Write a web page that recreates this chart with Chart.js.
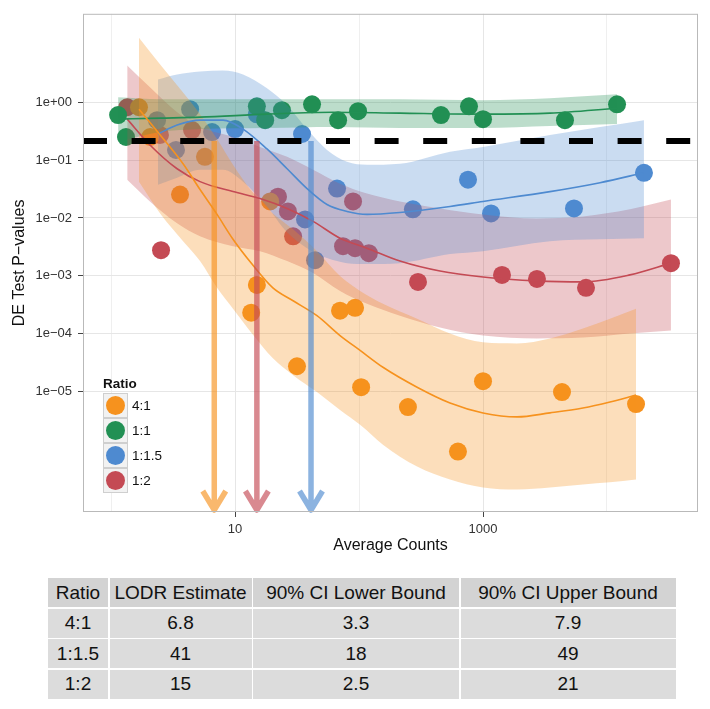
<!DOCTYPE html>
<html>
<head>
<meta charset="utf-8">
<title>LODR estimates</title>
<script src="https://cdn.jsdelivr.net/npm/chart.js@4.4.1/dist/chart.umd.min.js"></script>
<style>
  html, body { margin: 0; padding: 0; background: #fff; }
  #wrap { position: relative; width: 710px; height: 709px; overflow: hidden; }
  #chart { position: absolute; left: 0; top: 0; }
  #lodr {
    position: absolute; left: 48px; top: 578px;
    display: grid;
    grid-template-columns: 60px 142px 206px 215px;
    grid-auto-rows: 29px;
    gap: 1.5px;
    background: #fff;
    font-family: 'Liberation Sans', Arial, Helvetica, sans-serif;
    font-size: 19px; color: #111;
  }
  #lodr div { background: #dcdcdc; display: flex; align-items: center; justify-content: center; white-space: nowrap; }
  #lodr div.head { background: #d3d3d3; }
</style>
</head>
<body>
<div id="wrap">
  <canvas id="chart" width="710" height="560"></canvas>
  <div id="lodr"></div>
</div>
<script>
// ---- observed DE test p-values vs average counts, per ratio group ----
const counts41 = [1.68, 2.07, 3.60, 5.72, 13.5, 15.0, 19.2, 31.6, 70.3, 92.9, 104, 248, 628, 1000, 4335, 17150];
const pval41   = [0.82, 0.251, 0.0254, 0.114, 0.000231, 0.000698, 0.0193, 2.74e-5, 0.00025, 0.000281, 1.19e-5, 5.4e-6, 9.2e-7, 1.51e-5, 9.8e-6, 6.1e-6];

const counts11 = [1.14, 1.32, 15.0, 17.5, 23.9, 41.8, 67.8, 98.2, 458, 771, 1000, 4581, 12050];
const pval11   = [0.60, 0.251, 0.85, 0.49, 0.73, 0.92, 0.49, 0.70, 0.60, 0.85, 0.51, 0.49, 0.92];

const counts115 = [2.35, 3.34, 4.34, 6.53, 10.0, 15.0, 34.7, 36.7, 44.2, 66.5, 272, 757, 1161, 5418, 19870];
const pval115   = [0.49, 0.150, 0.76, 0.306, 0.344, 0.62, 0.283, 0.00946, 0.00187, 0.0322, 0.0141, 0.0459, 0.0120, 0.0146, 0.0605];

const counts12 = [1.35, 2.48, 2.53, 4.50, 22.2, 26.7, 29.4, 74.3, 89.5, 92.9, 120, 299, 1423, 2724, 6771, 32810];
const pval12   = [0.82, 0.272, 0.00278, 0.331, 0.0234, 0.0130, 0.00483, 0.00326, 0.0193, 0.00301, 0.00247, 0.000786, 0.00104, 0.000885, 0.00062, 0.00166];

// ---- loess fits with confidence bands ----
const fitX41  = [1.68, 2.49, 3.81, 5.22, 7.16, 9.63, 13.7, 20.2, 29.4, 45.8, 70.3, 102, 156, 294, 542, 1000, 1880, 3470, 6400, 10570, 17150];
const fit41   = [0.759, 0.272, 0.0864, 0.031, 0.01153, 0.0043, 0.0016, 0.00062, 0.000371, 0.000205, 9.3e-5, 5.15e-5, 2.63e-5, 1.19e-5, 6.35e-6, 4.28e-6, 3.65e-6, 4.28e-6, 5.2e-6, 6.6e-6, 8.7e-6];
const fitHi41 = [13.0, 4.48, 1.48, 0.623, 0.232, 0.083, 0.0286, 0.0120, 0.00637, 0.00267, 0.000996, 0.00055, 0.00033, 0.000182, 0.000101, 7.1e-5, 6.8e-5, 8.3e-5, 0.000123, 0.000182, 0.00027];
const fitLo41 = [0.0425, 0.012, 0.00397, 0.0018, 0.00062, 0.00027, 0.000101, 3.76e-5, 1.92e-5, 9.8e-6, 4.8e-6, 2.66e-6, 1.21e-6, 5.07e-7, 3.03e-7, 2.21e-7, 2.04e-7, 2.21e-7, 2.49e-7, 2.7e-7, 3.03e-7];

const fitX11  = [1.14, 2.49, 5.22, 18.1, 61.7, 214, 1000, 3467, 12050];
const fit11   = [0.511, 0.532, 0.553, 0.623, 0.674, 0.648, 0.623, 0.648, 0.789];
const fitHi11 = [1.22, 1.126, 1.126, 1.126, 1.126, 1.126, 1.082, 1.171, 1.372];
const fitLo11 = [0.206, 0.306, 0.344, 0.358, 0.373, 0.358, 0.358, 0.388, 0.42];

const fitX115  = [2.39, 3.41, 5.22, 8.0, 11.6, 18.1, 26.3, 38.1, 55.2, 80.0, 116, 214, 542, 1000, 3467, 8790, 19870];
const fit115   = [0.283, 0.403, 0.491, 0.491, 0.344, 0.156, 0.071, 0.0322, 0.0171, 0.0130, 0.01153, 0.01247, 0.0158, 0.0193, 0.0286, 0.0408, 0.0605];
const fitHi115 = [2.48, 3.02, 3.40, 3.54, 3.02, 1.74, 0.888, 0.344, 0.150, 0.0935, 0.083, 0.0864, 0.139, 0.169, 0.272, 0.373, 0.491];
const fitLo115 = [0.0377, 0.0497, 0.0682, 0.0682, 0.0425, 0.0158, 0.00566, 0.00301, 0.00203, 0.00166, 0.0016, 0.00166, 0.00238, 0.00267, 0.00397, 0.0043, 0.00447];

const fitX12  = [1.35, 2.06, 3.41, 5.22, 9.63, 15.9, 26.3, 42.6, 70.3, 116, 214, 450, 1000, 2723, 6400, 15310, 32810];
const fit12   = [0.511, 0.183, 0.071, 0.0425, 0.0286, 0.0217, 0.0146, 0.00874, 0.00447, 0.00301, 0.0018, 0.00121, 0.000957, 0.000818, 0.000786, 0.00104, 0.00166];
const fitHi12 = [4.31, 1.81, 0.674, 0.373, 0.251, 0.169, 0.114, 0.0682, 0.0392, 0.0264, 0.0193, 0.0146, 0.01153, 0.00984, 0.01064, 0.0141, 0.0208];
const fitLo12 = [0.0459, 0.0193, 0.00808, 0.00483, 0.00326, 0.00267, 0.0018, 0.00112, 0.00055, 0.00033, 0.000205, 0.000128, 9.3e-5, 8.3e-5, 8.6e-5, 0.000101, 0.000114];

// ---- LODR table and threshold ----
const tableHeader  = ['Ratio', 'LODR Estimate', '90% CI Lower Bound', '90% CI Upper Bound'];
const lodrRatios   = ['4:1', '1:1.5', '1:2'];
const lodrEstimate = [6.8, 41, 15];
const ciLower      = [3.3, 18, 2.5];
const ciUpper      = [7.9, 49, 21];
const pThreshold   = 0.214;

// ---- axes ----
const xRange = [0.594, 54200];
const yRange = [8.3e-8, 33.8];
const xTickValues = [1, 10, 100, 1000, 10000];
const xTickLabels = ['', '10', '', '1000', ''];
const yTickValues = [1e-5, 1e-4, 1e-3, 1e-2, 1e-1, 1];
const yTickLabels = ['1e\u221205', '1e\u221204', '1e\u221203', '1e\u221202', '1e\u221201', '1e+00'];

// ---- legend ----
const legendTitle  = 'Ratio';
const legendLabels = ['4:1', '1:1', '1:1.5', '1:2'];

const groupColor = {
  '4:1':   [246, 146, 30],
  '1:1':   [34, 144, 84],
  '1:1.5': [78, 138, 208],
  '1:2':   [196, 74, 84]
};

const rgba = (c, a) => `rgba(${c[0]},${c[1]},${c[2]},${a})`;
const zip = (xs, ys) => xs.map((x, i) => ({ x: x, y: ys[i] }));

const groups = [
  { key: '4:1',   counts: counts41,  pvals: pval41,  fx: fitX41,  f: fit41,  hi: fitHi41,  lo: fitLo41 },
  { key: '1:1',   counts: counts11,  pvals: pval11,  fx: fitX11,  f: fit11,  hi: fitHi11,  lo: fitLo11 },
  { key: '1:1.5', counts: counts115, pvals: pval115, fx: fitX115, f: fit115, hi: fitHi115, lo: fitLo115 },
  { key: '1:2',   counts: counts12,  pvals: pval12,  fx: fitX12,  f: fit12,  hi: fitHi12,  lo: fitLo12 }
];

const datasets = [];
// points sit underneath the translucent bands
groups.forEach(g => {
  datasets.push({
    label: g.key, data: zip(g.counts, g.pvals), order: 10,
    backgroundColor: rgba(groupColor[g.key], 1), borderColor: 'rgba(0,0,0,0)', borderWidth: 0,
    pointRadius: 9, pointHoverRadius: 9
  });
});
groups.forEach(g => {
  datasets.push({
    label: g.key + ' upper', data: zip(g.fx, g.hi), order: 5, showLine: true,
    fill: '+1', backgroundColor: rgba(groupColor[g.key], 0.3),
    borderColor: 'rgba(0,0,0,0)', borderWidth: 0, pointRadius: 0,
    cubicInterpolationMode: 'monotone'
  });
  datasets.push({
    label: g.key + ' lower', data: zip(g.fx, g.lo), order: 5, showLine: true,
    fill: false, borderColor: 'rgba(0,0,0,0)', borderWidth: 0, pointRadius: 0,
    cubicInterpolationMode: 'monotone'
  });
});
groups.forEach(g => {
  datasets.push({
    label: g.key + ' fit', data: zip(g.fx, g.f), order: 3, showLine: true, fill: false,
    borderColor: rgba(groupColor[g.key], 1), borderWidth: 1.6, pointRadius: 0,
    cubicInterpolationMode: 'monotone'
  });
});
datasets.push({
  label: 'threshold', data: [{ x: xRange[0], y: pThreshold }, { x: xRange[1], y: pThreshold }],
  order: 1, showLine: true, fill: false, borderColor: '#000', borderWidth: 6,
  borderDash: [24, 24.6], pointRadius: 0
});

// LODR arrows: from the threshold down to the x axis at each estimate
const arrowPlugin = {
  id: 'lodrArrows',
  afterDatasetsDraw(chart) {
    const { ctx, chartArea, scales } = chart;
    const y0 = scales.y.getPixelForValue(pThreshold);
    const tip = chartArea.bottom - 2;
    ctx.save();
    lodrRatios.forEach((r, i) => {
      const x = scales.x.getPixelForValue(lodrEstimate[i]);
      ctx.beginPath();
      ctx.moveTo(x, y0);
      ctx.lineTo(x, tip);
      ctx.moveTo(x - 11.5, tip - 19);
      ctx.lineTo(x, tip);
      ctx.lineTo(x + 11.5, tip - 19);
      ctx.lineWidth = 5.5;
      ctx.lineCap = 'butt';
      ctx.lineJoin = 'round';
      ctx.strokeStyle = rgba(groupColor[r], 0.65);
      ctx.stroke();
    });
    ctx.restore();
  }
};

// panel frame and the "Ratio" key
const framePlugin = {
  id: 'panelFrame',
  afterDraw(chart) {
    const { ctx, chartArea } = chart;
    ctx.save();
    ctx.strokeStyle = '#b9b9b9';
    ctx.lineWidth = 1;
    ctx.strokeRect(chartArea.left + 0.5, chartArea.top + 0.5,
                   chartArea.right - chartArea.left - 1, chartArea.bottom - chartArea.top - 1);

    const lx = chartArea.left + 20, ly = 393, box = 25;
    ctx.fillStyle = '#111';
    ctx.font = "bold 13.5px 'Liberation Sans', Arial, sans-serif";
    ctx.textBaseline = 'alphabetic';
    ctx.textAlign = 'left';
    ctx.fillText(legendTitle, lx, ly - 5.5);
    ctx.font = "13.5px 'Liberation Sans', Arial, sans-serif";
    ctx.textBaseline = 'middle';
    legendLabels.forEach((lab, i) => {
      const top = ly + i * box;
      ctx.fillStyle = '#f2f2f2';
      ctx.fillRect(lx, top, box, box);
      ctx.strokeStyle = '#cfcfcf';
      ctx.strokeRect(lx + 0.5, top + 0.5, box - 1, box - 1);
      ctx.beginPath();
      ctx.arc(lx + box / 2, top + box / 2, 9.5, 0, Math.PI * 2);
      ctx.fillStyle = rgba(groupColor[lab], 1);
      ctx.fill();
      ctx.fillStyle = '#111';
      ctx.fillText(lab, lx + box + 4, top + box / 2 + 1);
    });
    ctx.restore();
  }
};

Chart.defaults.font.family = "'Liberation Sans', Arial, Helvetica, sans-serif";

new Chart(document.getElementById('chart'), {
  type: 'scatter',
  data: { datasets: datasets },
  plugins: [arrowPlugin, framePlugin],
  options: {
    responsive: false,
    animation: false,
    devicePixelRatio: 1,
    layout: { padding: { top: 11, right: 12, left: 0, bottom: 0 } },
    plugins: { legend: { display: false }, tooltip: { enabled: false } },
    scales: {
      x: {
        type: 'logarithmic', min: xRange[0], max: xRange[1],
        afterBuildTicks: s => { s.ticks = xTickValues.map(v => ({ value: v })); },
        afterFit: s => { s.height = 48; },
        ticks: {
          autoSkip: false, maxRotation: 0, minRotation: 0, padding: 5,
          color: '#333', font: { size: 13 },
          callback: (v, i) => xTickLabels[i]
        },
        grid: {
          color: ctx => (xTickLabels[ctx.index] ? '#e6e6e6' : '#efefef'),
          lineWidth: 1, tickLength: 5, tickWidth: 1,
          tickColor: ctx => (xTickLabels[ctx.index] ? '#444' : 'rgba(0,0,0,0)')
        },
        border: { display: false },
        title: { display: true, text: 'Average Counts', color: '#111', font: { size: 16 }, padding: { top: 0, bottom: 5 } }
      },
      y: {
        type: 'logarithmic', min: yRange[0], max: yRange[1],
        afterBuildTicks: s => { s.ticks = yTickValues.map(v => ({ value: v })); },
        afterFit: s => { s.width = 83; },
        ticks: {
          autoSkip: false, padding: 6, color: '#333', font: { size: 13 },
          callback: (v, i) => yTickLabels[i]
        },
        grid: { color: '#e6e6e6', lineWidth: 1, tickLength: 5, tickWidth: 1, tickColor: '#444' },
        border: { display: false },
        title: { display: true, text: 'DE Test P\u2212values', color: '#111', font: { size: 16 }, padding: { top: 10.4, bottom: 0 } }
      }
    }
  }
});

// LODR summary table
const tbl = document.getElementById('lodr');
const cell = (txt, cls) => { const d = document.createElement('div'); d.textContent = txt; if (cls) d.className = cls; tbl.appendChild(d); };
tableHeader.forEach(h => cell(h, 'head'));
lodrRatios.forEach((r, i) => {
  cell(r); cell(String(lodrEstimate[i])); cell(String(ciLower[i])); cell(String(ciUpper[i]));
});
</script>
</body>
</html>
